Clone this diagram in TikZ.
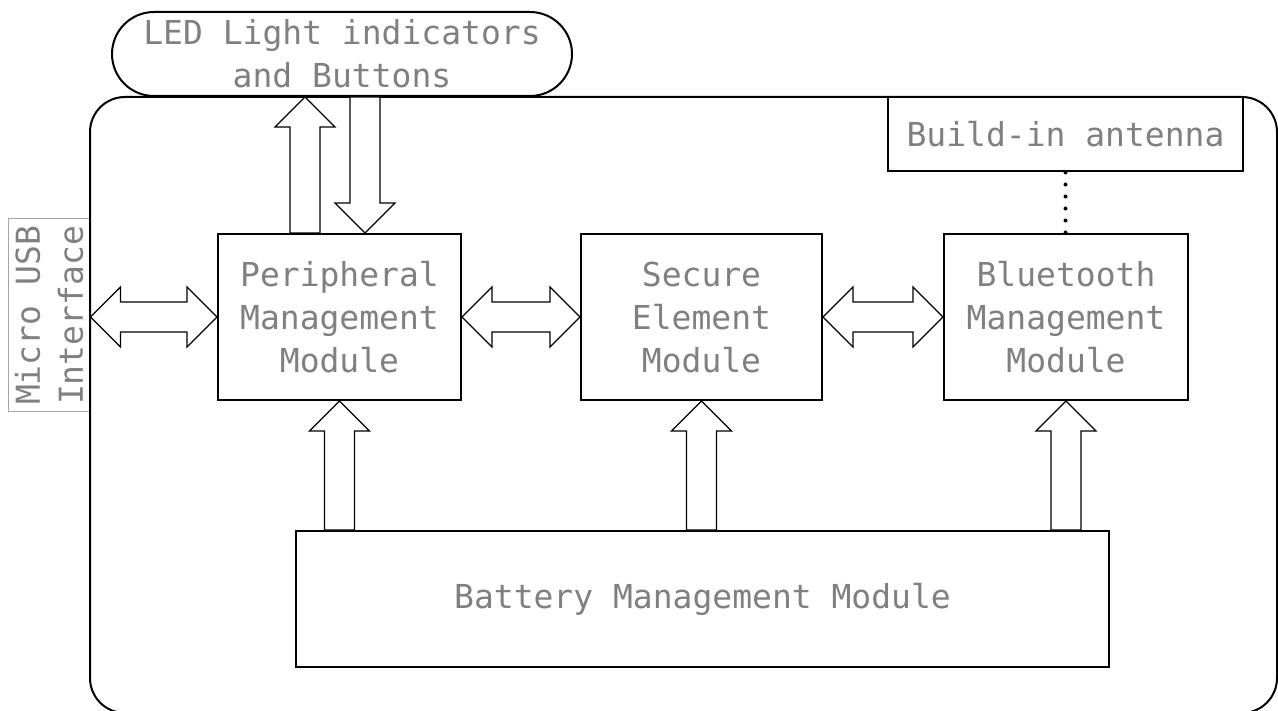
\documentclass[tikz,border=0pt]{standalone}
\usepackage{fontspec}
\setmonofont{DejaVu Sans Mono}
\usetikzlibrary{calc}
\tikzset{
module/.style={ % plain blocks of the device
draw,
line width=2pt,
fill=white,
inner sep=0pt,
align=center,
font=\ttfamily\fontsize{33}{43}\selectfont,
text=black!50,
minimum width=243pt,
minimum height=166pt},
pill/.style={module, rounded corners=42pt, minimum width=460pt, minimum height=84pt},
usbbox/.style={draw=black!35, line width=1pt, inner sep=0pt, align=center,
font=\ttfamily\fontsize{33}{43}\selectfont, text=black!50},
casing/.style={draw, line width=2pt, rounded corners=35pt, inner sep=0pt},
blockarrow/.style={draw, fill=white, line width=1.2pt, line join=miter},
dotline/.style={line width=4pt, line cap=round, dash pattern=on 0pt off 12pt}}

% hollow arrow: base #1, tip #2
\newcommand{\onearrow}[2]{%
\coordinate (h) at ($(#2)!30pt!(#1)$);
\draw[blockarrow] (#2) -- ($(h)!30pt!90:(#1)$) -- ($(h)!15pt!90:(#1)$)
  -- ($(#1)!15pt!-90:(#2)$) -- ($(#1)!15pt!90:(#2)$)
  -- ($(h)!15pt!-90:(#1)$) -- ($(h)!30pt!-90:(#1)$) -- cycle;}
% hollow arrow with two heads
\newcommand{\twoarrow}[2]{%
\coordinate (ha) at ($(#1)!30pt!(#2)$);
\coordinate (hb) at ($(#2)!30pt!(#1)$);
\draw[blockarrow] (#1) -- ($(ha)!30pt!90:(#2)$) -- ($(ha)!15pt!90:(#2)$)
  -- ($(hb)!15pt!-90:(#1)$) -- ($(hb)!30pt!-90:(#1)$) -- (#2)
  -- ($(hb)!30pt!90:(#1)$) -- ($(hb)!15pt!90:(#1)$)
  -- ($(ha)!15pt!-90:(#2)$) -- ($(ha)!30pt!-90:(#2)$) -- cycle;}

\begin{document}
\begin{tikzpicture}[x=1pt, y=-1pt]
\useasboundingbox (0,0) rectangle (1278,711);
\clip (0,0) rectangle (1278,711);

\node[usbbox, rotate=90, minimum width=193pt, minimum height=82pt] (usb) at (49,315.5) {Micro USB\\Interface};
\node[casing, minimum width=1187pt, minimum height=616pt] (case) at (683.5,405) {};

\node[pill] (led) at (342,54) {LED Light indicators\\and Buttons};
\node[module, minimum width=355pt, minimum height=74pt] (ant) at (1065.5,134.5) {Build-in antenna};

\node[module] (per) at (339.5,317) {Peripheral\\Management\\Module};
\node[module, minimum width=241pt] (sec) at (701.5,317) {Secure\\Element\\Module};
\node[module, minimum width=244pt] (blu) at (1066,317) {Bluetooth\\Management\\Module};
\node[module, minimum width=813pt, minimum height=136pt] (bat) at (702.5,599) {Battery Management Module};

% links
\coordinate (usbr) at (per.west -| usb.south);
\twoarrow{usbr}{per.west}
\twoarrow{per.east}{sec.west}
\twoarrow{sec.east}{blu.west}

\coordinate (pu) at ($(per.north)+(-34.5,0)$);
\coordinate (lu) at (led.south -| pu);
\coordinate (pd) at ($(per.north)+(25.5,0)$);
\coordinate (ld) at (led.south -| pd);
\onearrow{pu}{lu}
\onearrow{ld}{pd}

\coordinate (b1) at (bat.north -| per.south);
\coordinate (b2) at (bat.north -| sec.south);
\coordinate (b3) at (bat.north -| blu.south);
\onearrow{b1}{per.south}
\onearrow{b2}{sec.south}
\onearrow{b3}{blu.south}

\draw[dotline] (ant.south) -- (ant.south |- blu.north);
\end{tikzpicture}
\end{document}
